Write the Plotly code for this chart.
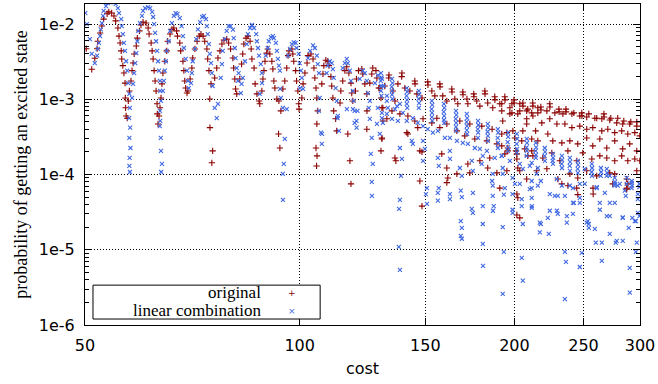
import math
import plotly.graph_objects as go

# ---------------- data ----------------
# "original" series: (cost, probability)
orig_low = [
    (50.2, 4.7e-3), (51.1, 2.5e-3), (51.6, 3.5e-3), (52.0, 4.7e-3), (52.1, 5.9e-3), (52.5, 7.6e-3), (52.8, 9.4e-3), (53.1, 1.16e-2), (53.7, 1.37e-2), (54.0, 1.45e-2),
    (54.5, 1.4e-2), (54.9, 1.28e-2), (55.2, 1.1e-2), (55.6, 8.85e-3), (55.8, 6.9e-3), (56.0, 5.6e-3), (56.2, 4.4e-3), (56.3, 3.43e-3), (56.5, 2.8e-3), (56.7, 2.23e-3),
    (56.9, 1.64e-3), (56.95, 1.04e-3), (57.0, 7.7e-4), (57.1, 6.0e-4), (57.3, 5.6e-4),
    (57.5, 9.5e-4), (57.7, 1.29e-3), (58.0, 1.75e-3), (58.2, 2.4e-3), (58.4, 3.03e-3), (58.6, 4.0e-3), (59.0, 5.1e-3), (59.2, 6.5e-3), (59.6, 8.1e-3), (59.9, 9.7e-3),
    (60.3, 1.06e-2), (60.9, 1.03e-2), (61.3, 8.85e-3), (61.5, 7.36e-3), (61.9, 5.6e-3), (62.1, 4.4e-3), (62.3, 3.43e-3), (62.5, 2.4e-3), (62.7, 1.75e-3), (62.9, 1.29e-3),
    (63.1, 8.7e-4), (63.15, 6.4e-4), (63.3, 4.7e-4),
    (63.5, 6.0e-4), (63.7, 7.7e-4), (63.9, 1.04e-3), (64.1, 1.6e-3), (64.3, 2.23e-3), (64.7, 3.2e-3), (65.1, 4.4e-3), (65.3, 5.9e-3), (65.8, 7.36e-3), (66.2, 8.5e-3),
    (66.6, 8.85e-3), (67.2, 8.1e-3), (67.4, 6.9e-3), (67.9, 5.6e-3), (68.1, 4.4e-3), (68.6, 3.2e-3), (68.8, 2.4e-3), (69.0, 1.75e-3), (69.2, 1.41e-3), (69.5, 1.21e-3),
    (69.7, 1.29e-3), (70.2, 1.86e-3), (70.6, 2.6e-3), (70.8, 3.53e-3), (71.3, 4.66e-3), (71.8, 5.9e-3), (72.3, 6.9e-3), (72.7, 7.36e-3), (73.2, 6.9e-3), (73.6, 5.9e-3),
    (74.1, 4.66e-3), (74.3, 3.43e-3), (74.6, 2.4e-3), (75.1, 1.6e-3), (74.8, 1.01e-3), (74.85, 4.2e-4), (75.5, 2.06e-4), (75.3, 1.43e-4),
    (76.0, 1.92e-3), (76.5, 2.6e-3), (76.8, 3.53e-3), (77.3, 4.4e-3), (77.8, 5.42e-3), (78.3, 6.1e-3), (79.0, 6.3e-3), (79.5, 5.6e-3), (80.0, 4.66e-3), (80.6, 3.53e-3),
    (80.8, 2.6e-3), (81.1, 1.86e-3), (81.3, 1.37e-3), (81.6, 1.18e-3),
    (82.4, 1.86e-3), (82.9, 2.94e-3), (83.2, 4.0e-3), (83.5, 5.42e-3), (84.1, 6.5e-3), (84.6, 6.9e-3), (85.2, 5.9e-3), (85.5, 4.66e-3), (85.7, 3.43e-3), (86.3, 2.6e-3),
    (86.6, 1.6e-3), (87.1, 1.18e-3), (87.7, 9.5e-4), (87.9, 8.7e-4),
    (88.5, 1.29e-3), (88.8, 1.86e-3), (89.1, 2.4e-3), (89.4, 3.2e-3), (89.9, 4.1e-3), (90.2, 4.66e-3), (90.8, 4.0e-3), (91.4, 3.2e-3), (91.7, 2.52e-3), (92.0, 1.75e-3),
    (92.3, 1.41e-3), (92.9, 1.01e-3), (93.5, 9.5e-4), (94.1, 7.0e-4), (93.4, 3.46e-4), (93.8, 2.25e-4),
    (94.7, 1.37e-3), (95.3, 1.75e-3), (95.9, 2.6e-3), (96.3, 3.8e-3), (96.6, 4.4e-3), (97.5, 4.66e-3), (97.8, 4.0e-3), (98.1, 3.2e-3), (98.7, 2.4e-3), (99.0, 1.75e-3),
    (99.4, 1.29e-3), (99.7, 8.7e-4), (99.8, 7.4e-4),
]
orig_mid = [
    (100.7, 1.04e-3), (101.1, 1.6e-3), (101.7, 2.23e-3), (102.4, 3.03e-3), (102.7, 3.8e-3), (103.7, 4.0e-3), (104.4, 3.43e-3), (104.7, 2.6e-3), (105.0, 1.92e-3), (105.4, 1.41e-3),
    (105.7, 1.04e-3), (106.0, 7.0e-4), (105.7, 4.7e-4), (105.4, 2.25e-4), (105.75, 1.77e-4), (105.6, 1.3e-4),
    (107.4, 1.6e-3), (107.8, 2.17e-3), (108.1, 2.8e-3), (108.8, 3.3e-3), (109.5, 3.2e-3), (109.9, 2.8e-3), (110.6, 2.0e-3), (110.9, 1.5e-3), (111.3, 1.04e-3), (111.6, 7.0e-4),
    (112.3, 5.5e-4), (112.7, 3.8e-4),
    (113.9, 8.9e-4), (114.2, 1.29e-3), (114.9, 1.75e-3), (115.7, 2.4e-3), (116.4, 2.7e-3), (117.2, 2.23e-3), (118.0, 1.64e-3), (118.3, 1.21e-3), (118.7, 9.5e-4), (116.8, 3.46e-4),
    (117.6, 1.52e-4), (118.0, 7.5e-5),
    (119.7, 1.29e-3), (120.1, 1.86e-3), (120.9, 2.4e-3), (122.2, 2.52e-3), (122.6, 2.17e-3), (123.4, 1.6e-3), (124.2, 1.18e-3), (124.25, 7.0e-4), (124.2, 4.0e-4),
    (125.4, 1.64e-3), (126.2, 2.17e-3), (126.6, 2.6e-3), (127.9, 2.4e-3), (128.3, 1.92e-3), (129.1, 1.41e-3), (130.0, 1.04e-3), (130.4, 7.7e-4), (130.8, 5.15e-4), (130.4, 2.97e-4),
    (130.0, 2.06e-4),
]
orig_peaks = [
    (133.4, 2.1e-3), (133.3, 1.92e-3), (139.1, 2.23e-3), (139.0, 2.0e-3), (145.0, 1.75e-3), (145.1, 1.6e-3), (151.2, 1.7e-3), (151.3, 1.55e-3), (157.2, 1.6e-3), (157.3, 1.46e-3),
    (163.4, 1.37e-3), (163.5, 1.25e-3), (169.3, 1.25e-3), (169.4, 1.15e-3), (175.4, 1.18e-3), (175.5, 1.08e-3), (181.8, 1.29e-3), (181.9, 1.18e-3), (187.7, 1.08e-3), (187.8, 9.8e-4),
    (193.9, 1.08e-3), (194.0, 9.8e-4), (199.7, 9.8e-4), (199.8, 8.9e-4), (205.5, 8.9e-4), (205.6, 8.1e-4), (212.2, 8.9e-4), (212.3, 8.1e-4), (217.8, 7.9e-4), (217.9, 7.2e-4),
    (224.2, 8.7e-4), (224.3, 7.9e-4), (230.9, 7.4e-4), (231.0, 6.8e-4), (236.2, 7.4e-4), (236.3, 6.8e-4), (242.3, 6.6e-4), (248.6, 6.6e-4), (248.7, 6.0e-4), (254.3, 6.4e-4),
    (260.9, 5.6e-4), (267.0, 6.4e-4), (267.1, 5.8e-4), (273.0, 5.6e-4), (279.2, 5.6e-4), (284.7, 5.15e-4), (291.2, 5.0e-4), (296.9, 5.0e-4),
]
orig_rows = [
    (129.5, 1.41e-3), (131.6, 1.5e-3), (135.1, 1.29e-3), (137.3, 1.6e-3), (140.4, 1.41e-3), (142.7, 1.29e-3), (146.0, 1.18e-3), (148.4, 1.04e-3), (153.2, 1.29e-3), (154.7, 1.11e-3),
    (158.7, 1.11e-3), (160.8, 9.5e-4), (165.0, 1.01e-3), (166.6, 8.7e-4), (171.6, 1.01e-3), (172.1, 8.7e-4), (177.1, 9.5e-4), (178.9, 8.1e-4), (183.5, 8.9e-4), (186.5, 7.7e-4),
    (190.8, 8.7e-4), (192.0, 7.0e-4), (197.1, 7.7e-4), (198.4, 6.6e-4), (203.5, 7.0e-4), (208.1, 7.0e-4), (211.5, 6.6e-4), (215.7, 6.6e-4),
    (130.8, 7.7e-4), (134.7, 7.0e-4), (136.0, 9.5e-4), (132.5, 5.5e-4), (138.2, 6.4e-4), (141.8, 6.0e-4), (145.0, 5.15e-4), (146.4, 4.2e-4), (148.9, 5.5e-4), (153.2, 4.85e-4),
    (155.7, 5.6e-4), (157.2, 4.2e-4), (160.8, 4.7e-4), (166.1, 3.8e-4), (167.7, 5.15e-4), (170.4, 3.26e-4), (173.2, 4.7e-4), (176.0, 2.97e-4), (180.0, 4.4e-4), (183.0, 2.8e-4),
    (186.1, 4.0e-4), (189.0, 2.55e-4), (192.0, 3.46e-4), (195.8, 2.25e-4), (199.0, 3.8e-4), (204.8, 2.8e-4), (208.1, 4.7e-4), (211.5, 2.06e-4), (214.2, 3.8e-4),
    (130.4, 3.06e-4), (136.0, 1.66e-4), (136.4, 1.52e-4), (141.3, 3.6e-4), (141.8, 3.46e-4), (147.4, 2.06e-4), (148.4, 2.0e-4), (158.2, 1.88e-4), (160.8, 1.22e-4), (161.3, 9.0e-5),
    (166.1, 1.02e-4), (172.1, 1.38e-4), (173.2, 1.05e-4), (178.9, 1.52e-4), (184.7, 1.66e-4), (183.5, 1.22e-4), (189.0, 1.05e-4), (193.9, 1.88e-4), (201.0, 2.06e-4), (201.6, 1.61e-4),
    (208.8, 1.77e-4), (203.5, 1.12e-4),
    (148.4, 3.8e-5), (147.4, 8.2e-5), (160.8, 7.8e-5), (190.8, 6.6e-5), (201.6, 5.5e-5), (202.2, 4.9e-5), (201.6, 2.9e-5), (233.1, 7.5e-5), (244.6, 6.6e-5), (245.4, 5.4e-5),
    (257.8, 6.6e-5), (257.9, 5.5e-5), (287.4, 6.4e-5), (274.7, 7.5e-5), (288.4, 7.5e-5), (203.5, 2.65e-5), (237.7, 7.1e-5),
    (192.0, 8.7e-4), (198.4, 8.7e-4), (203.5, 8.7e-4), (208.8, 7.4e-4), (215.7, 7.7e-4), (222.1, 7.0e-4), (227.9, 6.6e-4), (233.9, 6.4e-4), (240.8, 6.4e-4), (247.0, 6.0e-4),
    (252.6, 5.8e-4), (259.3, 5.6e-4), (265.2, 5.5e-4), (272.1, 5.3e-4), (278.3, 4.85e-4), (283.7, 4.7e-4), (290.2, 4.7e-4), (296.9, 4.4e-4),
    (192.6, 5.15e-4), (197.1, 6.4e-4), (202.2, 6.4e-4), (208.1, 5.5e-4), (212.3, 6.0e-4), (218.5, 4.85e-4), (224.2, 5.5e-4), (229.4, 4.7e-4), (235.4, 4.7e-4), (240.8, 4.2e-4),
    (247.0, 4.4e-4), (252.6, 4.0e-4), (257.6, 4.2e-4), (265.2, 3.8e-4), (270.4, 4.0e-4), (276.5, 3.6e-4), (282.8, 3.8e-4), (288.4, 3.46e-4), (295.0, 3.6e-4), (299.8, 3.26e-4),
    (195.2, 3.6e-4), (200.3, 3.06e-4), (205.5, 3.8e-4), (211.5, 2.97e-4), (215.7, 2.8e-4), (222.8, 3.46e-4), (226.4, 2.8e-4), (233.1, 2.63e-4), (239.2, 2.8e-4), (245.4, 2.55e-4),
    (252.6, 3.06e-4), (257.6, 2.4e-4), (263.5, 2.97e-4), (269.5, 2.25e-4), (276.5, 2.8e-4), (283.7, 2.19e-4), (290.2, 2.55e-4), (296.9, 2.06e-4),
    (192.0, 2.4e-4), (195.8, 2.06e-4), (201.6, 1.88e-4), (206.8, 2.19e-4), (212.3, 1.77e-4), (219.2, 1.66e-4), (225.7, 1.94e-4), (231.6, 1.52e-4), (237.7, 2.06e-4), (244.6, 1.52e-4),
    (249.4, 1.94e-4), (256.8, 1.61e-4), (263.5, 1.77e-4), (269.5, 1.66e-4), (276.5, 1.52e-4), (282.8, 1.77e-4), (288.4, 1.52e-4), (295.0, 1.61e-4), (299.8, 1.52e-4),
    (195.2, 1.12e-4), (202.2, 1.22e-4), (208.1, 8.7e-5), (214.9, 1.12e-4), (222.1, 1.19e-4), (230.1, 8.7e-5), (239.2, 1.02e-4), (245.4, 9.0e-5), (252.6, 1.12e-4), (260.9, 9.6e-5),
    (272.1, 1.05e-4), (276.5, 1.02e-4), (287.4, 8.7e-5), (287.5, 6.6e-5), (296.9, 1.12e-4),
]

# "linear combination" series: (cost, probability)
lin_low = [
    (50.05, 1.4e-2), (50.3, 1.0e-2), (50.8, 6.3e-3), (51.1, 4.0e-3), (51.6, 3.03e-3), (52.0, 3.8e-3), (52.1, 4.66e-3), (52.3, 5.6e-3), (52.5, 6.9e-3), (52.6, 8.5e-3),
    (52.8, 1.03e-2), (53.0, 1.28e-2), (53.1, 1.49e-2), (53.5, 1.73e-2), (53.8, 1.9e-2), (54.2, 1.96e-2), (54.5, 1.97e-2), (54.9, 1.95e-2), (55.2, 1.85e-2), (55.6, 1.63e-2),
    (55.8, 1.4e-2), (56.2, 1.16e-2), (56.3, 9.4e-3), (56.5, 7.36e-3), (56.7, 5.6e-3), (56.9, 4.4e-3), (57.1, 3.2e-3), (57.3, 2.4e-3), (57.5, 1.64e-3), (57.7, 1.18e-3),
    (57.8, 7.7e-4), (57.65, 5.6e-4), (57.85, 4.2e-4), (57.7, 3.06e-4), (57.9, 2.25e-4), (57.75, 1.66e-4), (57.7, 1.3e-4), (57.8, 1.08e-4),
    (58.2, 1.04e-3), (58.4, 1.6e-3), (58.6, 2.23e-3), (58.8, 3.03e-3), (59.0, 4.1e-3), (59.2, 5.9e-3), (59.4, 8.1e-3), (59.7, 1.03e-2), (60.1, 1.28e-2), (60.3, 1.49e-2),
    (60.7, 1.63e-2), (61.3, 1.68e-2), (61.7, 1.63e-2), (62.1, 1.45e-2), (62.3, 1.24e-2), (62.5, 1.0e-2), (62.7, 7.6e-3), (62.9, 5.9e-3), (63.1, 4.4e-3), (63.3, 3.2e-3),
    (63.5, 2.4e-3), (63.7, 1.75e-3), (63.75, 1.29e-3), (63.9, 9.5e-4), (63.7, 7.0e-4), (63.75, 5.15e-4), (63.65, 4.4e-4), (63.85, 3.06e-4), (63.9, 2.06e-4), (64.1, 1.38e-4),
    (63.95, 1.08e-4),
    (64.3, 1.29e-3), (64.5, 1.75e-3), (64.7, 2.4e-3), (64.9, 3.2e-3), (65.1, 4.4e-3), (65.5, 5.9e-3), (65.8, 8.1e-3), (66.2, 1.03e-2), (66.6, 1.28e-2), (67.0, 1.4e-2),
    (67.4, 1.36e-2), (67.9, 1.2e-2), (68.3, 9.4e-3), (68.6, 6.9e-3), (68.8, 4.8e-3), (69.2, 3.43e-3), (69.5, 2.4e-3), (69.7, 1.75e-3), (69.9, 1.41e-3),
    (70.4, 1.64e-3), (70.6, 2.23e-3), (70.8, 3.2e-3), (71.3, 4.66e-3), (71.6, 6.3e-3), (72.0, 8.5e-3), (72.5, 1.06e-2), (73.0, 1.24e-2), (73.4, 1.28e-2), (73.9, 1.16e-2),
    (74.1, 9.4e-3), (74.3, 7.36e-3), (74.6, 5.42e-3), (74.8, 4.0e-3), (75.1, 3.03e-3), (75.3, 2.23e-3), (75.5, 1.5e-3), (76.0, 7.7e-4), (76.5, 5.6e-4), (76.8, 8.7e-4),
    (77.5, 1.92e-3), (77.8, 2.94e-3), (78.0, 4.4e-3), (78.5, 6.3e-3), (79.0, 8.1e-3), (79.5, 9.4e-3), (80.0, 9.4e-3), (80.6, 8.4e-3), (80.8, 6.5e-3), (81.1, 4.8e-3),
    (81.3, 3.53e-3), (81.6, 2.6e-3), (82.1, 2.23e-3), (82.9, 1.6e-3), (82.7, 1.21e-3), (81.9, 1.75e-3),
    (83.2, 1.92e-3), (83.8, 3.2e-3), (84.3, 5.42e-3), (84.6, 7.36e-3), (85.2, 8.85e-3), (85.7, 9.7e-3), (86.3, 8.85e-3), (86.9, 7.36e-3), (87.1, 5.9e-3), (87.4, 4.8e-3),
    (87.7, 3.8e-3), (88.2, 2.94e-3), (88.5, 2.23e-3), (88.55, 1.64e-3), (87.9, 1.18e-3),
    (89.6, 3.8e-3), (90.2, 4.8e-3), (90.5, 5.9e-3), (91.1, 6.7e-3), (91.7, 6.9e-3), (92.0, 6.5e-3), (92.6, 5.6e-3), (92.9, 4.4e-3), (93.2, 3.43e-3), (93.5, 2.8e-3),
    (93.8, 2.4e-3), (93.85, 1.37e-3), (94.1, 1.04e-3), (94.7, 7.7e-4), (95.9, 7.4e-4), (95.3, 2.97e-4), (95.0, 1.38e-4), (94.7, 1.02e-4), (94.75, 4.6e-5),
    (96.3, 3.8e-3), (96.9, 4.66e-3), (97.5, 5.42e-3), (98.1, 5.7e-3), (98.7, 5.6e-3), (99.0, 4.8e-3), (99.7, 4.0e-3), (100.0, 3.03e-3), (100.4, 2.4e-3), (100.7, 1.92e-3),
    (100.1, 1.41e-3), (101.1, 1.37e-3),
]
lin_mid = [
    (102.7, 3.53e-3), (103.4, 4.4e-3), (104.4, 5.2e-3), (105.0, 4.8e-3), (105.7, 3.8e-3), (106.0, 2.94e-3), (106.4, 2.23e-3), (106.7, 1.04e-3), (106.35, 7.0e-4), (107.1, 3.6e-4),
    (107.4, 2.55e-4), (107.45, 3.46e-4),
    (109.1, 2.23e-3), (109.5, 2.8e-3), (110.2, 3.2e-3), (110.9, 3.03e-3), (111.3, 2.52e-3), (111.6, 1.92e-3), (112.3, 1.41e-3), (112.7, 9.5e-4), (113.1, 6.0e-4), (113.5, 3.8e-4),
    (113.0, 5.6e-4),
    (114.9, 2.6e-3), (115.7, 3.03e-3), (116.4, 3.43e-3), (116.8, 3.03e-3), (117.6, 2.4e-3), (118.0, 1.75e-3), (118.7, 1.29e-3), (119.0, 9.5e-4), (119.4, 7.0e-4), (120.1, 5.15e-4),
    (116.45, 7.4e-4), (118.75, 7.4e-4), (119.4, 4.85e-4), (120.15, 4.2e-4), (120.5, 7.0e-4),
    (121.4, 1.86e-3), (122.6, 2.4e-3), (123.4, 2.23e-3), (124.2, 1.75e-3), (124.6, 1.21e-3), (125.0, 7.7e-4), (125.4, 5.5e-4), (126.2, 3.06e-4), (125.8, 1.88e-4), (126.6, 1.38e-4),
    (126.2, 8.0e-5), (126.25, 5.2e-5), (125.45, 9.5e-4),
    (127.5, 1.64e-3), (128.7, 2.08e-3), (130.4, 1.86e-3), (131.2, 1.5e-3), (132.5, 1.11e-3), (128.3, 4.7e-4), (130.4, 5.6e-4), (128.7, 7.7e-4),
]
lin_clusters = [
    (130.0, 2.23e-3), (130.2, 1.96e-3), (129.9, 1.75e-3), (130.1, 1.5e-3), (130.0, 1.29e-3), (130.2, 1.11e-3),
    (134.7, 1.86e-3), (134.9, 1.64e-3), (134.6, 1.46e-3), (134.8, 1.29e-3), (134.7, 1.15e-3), (134.9, 1.01e-3),
    (141.3, 1.41e-3), (141.5, 1.25e-3), (141.2, 1.11e-3), (141.4, 9.8e-4), (141.3, 8.7e-4), (141.5, 7.7e-4),
    (146.9, 1.29e-3), (147.1, 1.15e-3), (146.8, 1.01e-3), (147.0, 8.9e-4), (146.9, 7.7e-4),
    (153.2, 9.5e-4), (153.4, 8.4e-4), (153.1, 7.4e-4), (153.3, 6.6e-4), (153.2, 5.8e-4), (153.4, 5.15e-4),
    (159.3, 8.7e-4), (159.5, 7.7e-4), (159.2, 6.8e-4), (159.4, 6.0e-4), (159.3, 5.3e-4), (159.5, 4.85e-4),
    (165.6, 7.0e-4), (165.8, 6.2e-4), (165.5, 5.5e-4), (165.7, 4.85e-4), (165.6, 4.3e-4), (165.8, 3.8e-4),
    (171.5, 6.4e-4), (171.7, 5.6e-4), (171.4, 5.0e-4), (171.6, 4.4e-4), (171.5, 3.9e-4), (171.7, 3.46e-4),
    (177.8, 5.15e-4), (178.0, 4.55e-4), (177.7, 4.0e-4), (177.9, 3.6e-4), (177.8, 3.06e-4),
    (183.5, 4.7e-4), (183.7, 4.2e-4), (183.4, 3.7e-4), (183.6, 3.26e-4), (183.5, 2.8e-4),
    (189.6, 4.0e-4), (189.8, 3.6e-4), (189.5, 3.06e-4), (189.7, 2.63e-4), (189.6, 2.25e-4),
    (195.8, 3.6e-4), (196.0, 3.16e-4), (195.7, 2.7e-4), (195.9, 2.3e-4), (195.8, 2.06e-4),
    (201.6, 3.46e-4), (201.8, 2.97e-4), (201.5, 2.55e-4), (201.7, 2.19e-4), (201.6, 1.94e-4),
    (208.1, 2.97e-4), (208.3, 2.63e-4), (208.0, 2.3e-4), (208.2, 2.06e-4), (208.1, 1.77e-4),
    (214.3, 2.63e-4), (214.5, 2.3e-4), (214.2, 2.06e-4), (214.4, 1.82e-4), (214.3, 1.66e-4),
    (220.6, 2.25e-4), (220.8, 2.0e-4), (220.5, 1.77e-4), (220.7, 1.52e-4),
    (226.4, 1.88e-4), (226.6, 1.66e-4), (226.3, 1.52e-4), (226.5, 1.38e-4),
    (233.1, 1.77e-4), (233.3, 1.57e-4), (233.0, 1.38e-4), (233.2, 1.22e-4),
    (239.2, 1.66e-4), (239.4, 1.47e-4), (239.1, 1.3e-4), (239.3, 1.12e-4),
    (245.4, 1.52e-4), (245.6, 1.34e-4), (245.3, 1.19e-4), (245.5, 1.05e-4),
    (256.8, 1.38e-4), (257.0, 1.22e-4), (256.7, 1.08e-4), (256.9, 9.6e-5),
    (264.4, 1.22e-4), (264.6, 1.08e-4), (264.3, 9.6e-5),
    (269.5, 1.19e-4), (269.7, 1.05e-4), (269.4, 9.6e-5),
    (276.5, 9.0e-5), (276.7, 8.0e-5), (276.4, 7.1e-5),
    (292.1, 7.7e-5), (292.3, 7.1e-5), (292.0, 6.6e-5),
    (299.5, 7.5e-5), (299.3, 6.8e-5),
]
lin_scatter = [
    (132.5, 9.5e-4), (132.9, 7.7e-4), (136.0, 7.4e-4), (138.2, 8.7e-4), (139.5, 6.6e-4), (141.3, 5.15e-4), (144.1, 5.6e-4), (146.4, 4.85e-4), (148.9, 4.4e-4), (151.2, 4.0e-4),
    (153.7, 3.6e-4), (156.2, 3.8e-4), (159.8, 3.06e-4), (162.4, 3.06e-4), (166.1, 2.8e-4), (169.3, 2.63e-4), (172.1, 2.55e-4), (176.0, 2.25e-4), (178.9, 2.19e-4), (183.0, 2.06e-4),
    (187.7, 1.66e-4), (192.0, 1.77e-4), (197.1, 1.52e-4), (203.5, 1.38e-4), (210.2, 1.3e-4),
    (130.4, 6.6e-4), (130.8, 4.85e-4), (129.5, 3.46e-4), (132.5, 6.4e-4), (136.9, 8.1e-4), (134.7, 5.5e-4), (137.3, 5.15e-4), (138.2, 2.25e-4), (139.1, 1.61e-4), (138.7, 9.6e-5),
    (143.6, 2.8e-4), (144.1, 2.55e-4), (148.9, 2.8e-4), (149.8, 2.19e-4), (148.9, 1.52e-4), (156.2, 1.66e-4), (156.7, 1.3e-4), (162.4, 2.06e-4), (162.45, 1.61e-4), (162.4, 5.5e-5),
    (167.7, 1.22e-4), (168.8, 9.6e-5), (174.3, 1.52e-4), (174.9, 1.12e-4), (180.6, 1.77e-4), (180.0, 1.38e-4), (186.5, 1.02e-4), (186.1, 8.2e-5), (192.6, 1.22e-4), (193.9, 6.6e-5),
    (198.8, 9.0e-5), (205.5, 1.19e-4), (211.5, 8.2e-5), (214.9, 1.02e-4), (198.8, 5.5e-5),
    (138.2, 4.6e-5), (137.8, 3.5e-5), (137.7, 1.09e-5), (138.2, 5.4e-6), (150.8, 6.6e-5), (150.3, 5.5e-5), (150.8, 4.07e-5), (156.7, 6.6e-5), (156.2, 5.7e-5), (156.2, 4.5e-5),
    (162.4, 4.7e-5), (168.2, 6.1e-5), (168.8, 5.0e-5), (168.2, 2.4e-5), (168.8, 1.95e-5), (168.2, 1.53e-5), (168.8, 1.4e-5), (174.9, 5.7e-5), (174.3, 3.5e-5), (174.9, 3.1e-5),
    (180.6, 3.8e-5), (180.6, 2.2e-5), (180.6, 1.2e-5), (180.7, 6.1e-6), (186.5, 7.1e-5), (186.5, 5.2e-5), (187.1, 3.8e-5), (186.6, 3.3e-5), (193.3, 5.4e-5), (192.6, 2.0e-5),
    (193.3, 9.4e-6), (192.6, 2.6e-6), (198.8, 3.4e-5), (198.85, 3.1e-5), (200.3, 7.5e-5), (204.8, 4.7e-5), (205.5, 2.2e-5), (204.8, 7.8e-6), (205.5, 3.9e-6), (211.5, 4.9e-5),
    (211.55, 3.8e-5), (217.1, 2.3e-5), (217.8, 2.2e-5), (223.5, 1.63e-5), (222.8, 2.65e-5), (229.4, 3.3e-5), (230.1, 3.0e-5), (235.4, 9.4e-6), (236.2, 6.9e-6), (235.4, 2.2e-6),
    (236.9, 2.8e-5), (241.6, 3.0e-5), (247.0, 5.9e-6), (248.6, 9.1e-6), (253.5, 2.4e-5), (254.3, 2.2e-5), (259.3, 1.9e-5), (260.1, 1.24e-5), (265.2, 7.1e-6), (265.2, 1.24e-5),
    (272.1, 1.63e-5), (272.15, 2.8e-5), (277.4, 1.24e-5), (278.3, 1.31e-5), (283.7, 2.7e-5), (283.75, 1.31e-5), (289.3, 1.95e-5), (290.2, 5.75e-6), (290.25, 2.7e-6), (296.0, 9.4e-6),
    (296.9, 1.24e-5), (297.9, 3.1e-5), (295.0, 2.4e-5),
    (203.5, 7.5e-5), (211.5, 6.6e-5), (215.7, 7.1e-5), (217.8, 8.2e-5), (224.2, 5.5e-5), (227.9, 5.2e-5), (233.1, 7.1e-5), (239.2, 7.1e-5), (241.6, 4.2e-5), (247.0, 4.2e-5),
    (251.0, 7.5e-5), (260.9, 6.6e-5), (263.5, 4.2e-5), (267.8, 5.7e-5), (272.1, 4.2e-5), (276.5, 7.5e-5), (281.0, 7.5e-5), (285.6, 6.1e-5), (287.4, 7.5e-5), (297.9, 5.5e-5),
    (299.8, 7.5e-5),
    (192.0, 1.77e-4), (192.6, 1.02e-4), (204.8, 3.8e-5), (210.2, 6.4e-5), (211.5, 3.6e-5), (211.5, 1.43e-4), (215.7, 1.22e-4), (217.1, 1.7e-5), (224.2, 3.3e-5), (229.4, 8.7e-5),
    (230.1, 5.2e-5), (235.4, 5.2e-5), (236.9, 2.3e-5), (241.6, 6.6e-5), (242.3, 4.2e-5), (247.0, 7.5e-5), (247.05, 4.9e-5), (251.0, 1.19e-4), (252.6, 2.3e-5), (254.3, 1.95e-5),
    (260.9, 6.8e-5), (263.5, 3.4e-5), (269.5, 2.8e-5), (272.1, 9.6e-5), (276.5, 4.2e-5), (279.2, 7.1e-5), (283.7, 2.65e-5), (286.5, 5.2e-5), (292.6, 2.65e-5), (296.0, 2.4e-5),
    (297.9, 4.7e-5), (299.5, 2.8e-5), (287.4, 9.0e-5), (292.1, 8.2e-5),
]

x_tick_vals = [50, 100, 150, 200, 250, 300]
x_tick_text = ["50", "100", "150", "200", "250", "300"]
y_tick_vals = [1e-6, 1e-5, 1e-4, 1e-3, 1e-2]
y_tick_text = ["1e-6", "1e-5", "1e-4", "1e-3", "1e-2"]
y_minor_vals = [k * 10.0 ** e for e in range(-6, -1) for k in range(2, 10)]

series_names = ["original", "linear combination"]

# ---------------- build ----------------
orig_all = orig_low + orig_mid + orig_peaks + orig_rows
lin_all = lin_low + lin_mid + lin_clusters + lin_scatter
orig_cost = [c for c, _ in orig_all]
orig_prob = [p for _, p in orig_all]
lin_cost = [c for c, _ in lin_all]
lin_prob = [p for _, p in lin_all]

RED = "#8b0000"
BLUE = "#4169e1"

fig = go.Figure()
fig.add_trace(go.Scatter(
    x=orig_cost, y=orig_prob, mode="markers", name=series_names[0], showlegend=False,
    marker=dict(symbol="cross-thin", size=4.5, color=RED, line=dict(color=RED, width=1.1)),
))
fig.add_trace(go.Scatter(
    x=lin_cost, y=lin_prob, mode="markers", name=series_names[1], showlegend=False,
    marker=dict(symbol="x-thin", size=4, color=BLUE, line=dict(color=BLUE, width=1.1)),
))

grid_style = dict(showgrid=True, gridcolor="black", gridwidth=1, griddash="1px,2px")

fig.update_layout(
    width=658, height=384,
    margin=dict(l=85, r=16, t=3, b=59),
    paper_bgcolor="white", plot_bgcolor="white",
    font=dict(family="DejaVu Sans", size=16, color="black"),
    showlegend=False,
    xaxis=dict(
        type="log", range=[math.log10(50), math.log10(300)],
        tickmode="array", tickvals=x_tick_vals, ticktext=x_tick_text,
        ticks="inside", ticklen=7, tickcolor="black", tickwidth=1,
        showline=True, linecolor="black", linewidth=1, mirror="allticks",
        zeroline=False, ticklabelstandoff=6,
        title=dict(text="cost", font=dict(family="DejaVu Sans", size=16), standoff=8),
        **grid_style,
    ),
    yaxis=dict(
        type="log", range=[-6, -1.734],
        tickmode="array", tickvals=y_tick_vals, ticktext=y_tick_text,
        ticks="inside", ticklen=7, tickcolor="black", tickwidth=1,
        minor=dict(tickmode="array", tickvals=y_minor_vals, ticks="inside", ticklen=4,
                   tickcolor="black", showgrid=False),
        showline=True, linecolor="black", linewidth=1, mirror="allticks",
        zeroline=False, ticklabelstandoff=6,
        title=dict(text="probability of getting an excited state",
                   font=dict(family="Liberation Serif", size=18), standoff=6),
        **grid_style,
    ),
)

# legend box in gnuplot style (text on the left, sample on the right)
fig.add_shape(type="rect", xref="paper", yref="paper", x0=0.0144, x1=0.4237, y0=0.0186, y1=0.1242,
              line=dict(color="black", width=1), fillcolor="white", layer="above")
legend_y = [0.1010, 0.0450]
for name, yy, glyph, col in zip(series_names, legend_y, ["+", "\u00d7"], [RED, BLUE]):
    fig.add_annotation(xref="paper", yref="paper", x=0.3196, y=yy, text=name, showarrow=False,
                       xanchor="right", yanchor="middle", borderpad=0,
                       font=dict(family="Liberation Serif", size=17, color="black"))
    fig.add_annotation(xref="paper", yref="paper", x=0.3735, y=yy, text=glyph, showarrow=False,
                       xanchor="center", yanchor="middle", borderpad=0,
                       font=dict(family="DejaVu Sans", size=9, color=col))

fig.write_html("out.html", config={"displayModeBar": False},
               post_script="document.body.style.margin='0px';")
